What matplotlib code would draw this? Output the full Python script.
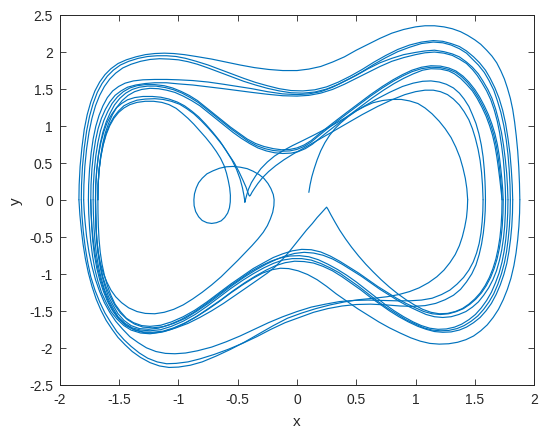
import matplotlib
matplotlib.use('Agg')
import matplotlib.pyplot as plt
import numpy as np

plt.rcParams['font.family'] = ['Liberation Sans', 'DejaVu Sans']
plt.rcParams['axes.unicode_minus'] = False

# phase trajectory as (x, y)
# upper half-orbits run left -> right, lower ones right -> left
start_top = [(0.1, 0.1), (0.11, 0.2), (0.125, 0.31), (0.145, 0.42), (0.17, 0.54), (0.2, 0.66), (0.235, 0.77),
             (0.275, 0.87), (0.32, 0.96), (0.37, 1.04), (0.43, 1.12), (0.5, 1.2), (0.57, 1.26), (0.64, 1.31),
             (0.72, 1.34), (0.8, 1.355), (0.88, 1.355), (0.95, 1.335), (1.02, 1.3), (1.08, 1.24), (1.14, 1.16),
             (1.2, 1.06), (1.25, 0.96), (1.3, 0.84), (1.34, 0.71), (1.375, 0.57), (1.4, 0.43), (1.42, 0.29),
             (1.433, 0.15), (1.44, 0.0)]
start_bottom = [(1.44, 0.0), (1.437, -0.12), (1.43, -0.24), (1.415, -0.37), (1.395, -0.5), (1.37, -0.62),
                (1.335, -0.74), (1.29, -0.85), (1.24, -0.95), (1.18, -1.04), (1.11, -1.12), (1.03, -1.19),
                (0.95, -1.24), (0.86, -1.28), (0.76, -1.31), (0.65, -1.33), (0.52, -1.35), (0.4, -1.38),
                (0.28, -1.42), (0.16, -1.47), (0.04, -1.53), (-0.08, -1.6), (-0.2, -1.7), (-0.32, -1.81),
                (-0.44, -1.92), (-0.56, -2.02), (-0.68, -2.11), (-0.8, -2.19), (-0.9, -2.235), (-1.0, -2.26),
                (-1.08, -2.265), (-1.16, -2.245), (-1.24, -2.2), (-1.32, -2.13), (-1.39, -2.05), (-1.45, -1.96),
                (-1.51, -1.86), (-1.56, -1.75), (-1.61, -1.63), (-1.655, -1.49), (-1.695, -1.34), (-1.73, -1.17),
                (-1.76, -0.99), (-1.785, -0.8), (-1.805, -0.6), (-1.82, -0.4), (-1.832, -0.2), (-1.84, 0.0)]

top_outer = [(-1.84, 0.0), (-1.838, 0.2), (-1.83, 0.45), (-1.815, 0.7), (-1.795, 0.95), (-1.77, 1.15),
             (-1.74, 1.32), (-1.705, 1.47), (-1.665, 1.59), (-1.62, 1.69), (-1.57, 1.77), (-1.51, 1.84),
             (-1.44, 1.89), (-1.36, 1.93), (-1.28, 1.96), (-1.2, 1.975), (-1.12, 1.98), (-1.04, 1.975),
             (-0.95, 1.96), (-0.85, 1.935), (-0.72, 1.9), (-0.6, 1.86), (-0.48, 1.82), (-0.36, 1.785),
             (-0.24, 1.76), (-0.12, 1.745), (0.0, 1.745), (0.1, 1.765), (0.2, 1.8), (0.3, 1.86), (0.4, 1.93),
             (0.5, 2.02), (0.6, 2.1), (0.7, 2.18), (0.8, 2.25), (0.9, 2.3), (1.0, 2.335), (1.08, 2.35),
             (1.16, 2.35), (1.24, 2.335), (1.31, 2.31), (1.38, 2.27), (1.44, 2.22), (1.5, 2.16), (1.55, 2.1),
             (1.6, 2.02), (1.645, 1.94), (1.685, 1.85), (1.72, 1.74), (1.75, 1.63), (1.775, 1.51), (1.8, 1.37),
             (1.82, 1.22), (1.836, 1.05), (1.85, 0.86), (1.862, 0.66), (1.871, 0.44), (1.877, 0.22), (1.88, 0.0)]
top_2 = [(-1.82, 0.0), (-1.818, 0.2), (-1.81, 0.45), (-1.795, 0.7), (-1.775, 0.93), (-1.75, 1.13), (-1.72, 1.3),
         (-1.685, 1.45), (-1.645, 1.57), (-1.6, 1.67), (-1.55, 1.75), (-1.49, 1.82), (-1.42, 1.87), (-1.34, 1.91),
         (-1.26, 1.935), (-1.18, 1.945), (-1.1, 1.945), (-1.02, 1.935), (-0.94, 1.91), (-0.85, 1.87),
         (-0.75, 1.82), (-0.65, 1.76), (-0.55, 1.7), (-0.45, 1.64), (-0.35, 1.585), (-0.25, 1.54), (-0.15, 1.5),
         (-0.05, 1.475), (0.05, 1.47), (0.15, 1.485), (0.25, 1.525), (0.35, 1.59), (0.45, 1.67), (0.55, 1.76),
         (0.65, 1.86), (0.75, 1.95), (0.85, 2.03), (0.95, 2.09), (1.05, 2.13), (1.15, 2.15), (1.23, 2.14),
         (1.3, 2.11), (1.37, 2.07), (1.43, 2.01), (1.49, 1.93), (1.54, 1.85), (1.59, 1.75), (1.63, 1.64),
         (1.67, 1.51), (1.705, 1.37), (1.735, 1.21), (1.76, 1.03), (1.78, 0.83), (1.797, 0.62), (1.808, 0.41),
         (1.816, 0.2), (1.82, 0.0)]
top_3 = [(-1.80, 0.0), (-1.798, 0.2), (-1.79, 0.45), (-1.775, 0.69), (-1.755, 0.91), (-1.73, 1.1), (-1.7, 1.27),
         (-1.665, 1.41), (-1.625, 1.53), (-1.58, 1.63), (-1.53, 1.71), (-1.47, 1.78), (-1.4, 1.83), (-1.32, 1.87),
         (-1.24, 1.895), (-1.16, 1.905), (-1.08, 1.9), (-1.0, 1.89), (-0.92, 1.865), (-0.84, 1.83), (-0.75, 1.78),
         (-0.65, 1.72), (-0.55, 1.66), (-0.45, 1.6), (-0.35, 1.55), (-0.25, 1.505), (-0.15, 1.47), (-0.05, 1.445),
         (0.05, 1.44), (0.15, 1.455), (0.25, 1.495), (0.35, 1.56), (0.45, 1.64), (0.55, 1.73), (0.65, 1.83),
         (0.75, 1.92), (0.85, 2.0), (0.95, 2.06), (1.05, 2.11), (1.15, 2.13), (1.23, 2.12), (1.3, 2.09),
         (1.37, 2.04), (1.43, 1.98), (1.48, 1.9), (1.53, 1.82), (1.58, 1.72), (1.62, 1.61), (1.66, 1.48),
         (1.69, 1.34), (1.72, 1.18), (1.745, 1.0), (1.765, 0.81), (1.78, 0.61), (1.79, 0.41), (1.797, 0.2),
         (1.80, 0.0)]
top_4 = [(-1.76, 0.0), (-1.758, 0.2), (-1.75, 0.42), (-1.737, 0.63), (-1.72, 0.82), (-1.698, 0.99), (-1.67, 1.14),
         (-1.637, 1.27), (-1.6, 1.38), (-1.555, 1.47), (-1.505, 1.53), (-1.45, 1.575), (-1.38, 1.605),
         (-1.3, 1.62), (-1.2, 1.625), (-1.1, 1.625), (-1.0, 1.62), (-0.88, 1.61), (-0.75, 1.59), (-0.62, 1.56),
         (-0.5, 1.53), (-0.38, 1.5), (-0.25, 1.46), (-0.12, 1.43), (0.0, 1.42), (0.1, 1.43), (0.2, 1.46),
         (0.3, 1.52), (0.4, 1.6), (0.5, 1.68), (0.6, 1.77), (0.7, 1.85), (0.8, 1.91), (0.9, 1.96), (1.0, 1.99),
         (1.08, 2.01), (1.16, 2.02), (1.24, 2.0), (1.31, 1.97), (1.37, 1.93), (1.43, 1.86), (1.48, 1.79),
         (1.53, 1.7), (1.57, 1.6), (1.61, 1.49), (1.645, 1.37), (1.675, 1.23), (1.7, 1.08), (1.725, 0.91),
         (1.743, 0.73), (1.758, 0.54), (1.769, 0.36), (1.776, 0.18), (1.78, 0.0)]
top_5 = [(-1.74, 0.0), (-1.738, 0.2), (-1.73, 0.42), (-1.717, 0.62), (-1.7, 0.8), (-1.678, 0.96), (-1.65, 1.1),
         (-1.617, 1.22), (-1.58, 1.32), (-1.535, 1.41), (-1.485, 1.47), (-1.43, 1.52), (-1.36, 1.55),
         (-1.28, 1.57), (-1.2, 1.58), (-1.1, 1.58), (-1.0, 1.565), (-0.88, 1.55), (-0.75, 1.525), (-0.62, 1.5),
         (-0.5, 1.475), (-0.38, 1.45), (-0.25, 1.425), (-0.12, 1.405), (0.0, 1.4), (0.1, 1.41), (0.2, 1.44),
         (0.3, 1.49), (0.4, 1.56), (0.5, 1.64), (0.6, 1.72), (0.7, 1.8), (0.8, 1.87), (0.9, 1.92), (1.0, 1.96),
         (1.08, 1.985), (1.16, 1.995), (1.24, 1.98), (1.31, 1.95), (1.37, 1.9), (1.43, 1.84), (1.48, 1.76),
         (1.52, 1.68), (1.56, 1.58), (1.6, 1.47), (1.635, 1.35), (1.665, 1.21), (1.69, 1.06), (1.71, 0.9),
         (1.727, 0.72), (1.741, 0.54), (1.75, 0.36), (1.757, 0.18), (1.76, 0.0)]

v_1 = [(-1.72, 0.0), (-1.718, 0.2), (-1.71, 0.4), (-1.697, 0.6), (-1.68, 0.77), (-1.658, 0.93), (-1.63, 1.07),
       (-1.597, 1.19), (-1.56, 1.3), (-1.515, 1.39), (-1.465, 1.46), (-1.41, 1.51), (-1.35, 1.54), (-1.28, 1.555),
       (-1.2, 1.555), (-1.12, 1.54), (-1.05, 1.51), (-0.98, 1.465), (-0.91, 1.41), (-0.84, 1.34), (-0.77, 1.25),
       (-0.7, 1.16), (-0.63, 1.07), (-0.56, 0.98), (-0.49, 0.9), (-0.42, 0.82), (-0.35, 0.76), (-0.28, 0.72),
       (-0.2, 0.69), (-0.13, 0.675), (-0.06, 0.68), (0.0, 0.7), (0.06, 0.74), (0.12, 0.8), (0.18, 0.88),
       (0.25, 0.97), (0.33, 1.07), (0.42, 1.18), (0.52, 1.3), (0.62, 1.42), (0.72, 1.53), (0.81, 1.62),
       (0.89, 1.69), (0.97, 1.75), (1.05, 1.79), (1.13, 1.81), (1.21, 1.805), (1.28, 1.78), (1.34, 1.74),
       (1.4, 1.67), (1.45, 1.59), (1.5, 1.49), (1.54, 1.39), (1.58, 1.27), (1.615, 1.15), (1.645, 1.02),
       (1.67, 0.89), (1.69, 0.75), (1.706, 0.6), (1.718, 0.44), (1.728, 0.29), (1.735, 0.15), (1.74, 0.0)]
v_2 = [(-1.70, 0.0), (-1.698, 0.2), (-1.69, 0.4), (-1.677, 0.59), (-1.66, 0.76), (-1.638, 0.91), (-1.61, 1.05),
       (-1.577, 1.17), (-1.54, 1.28), (-1.495, 1.37), (-1.445, 1.44), (-1.39, 1.49), (-1.33, 1.52),
       (-1.26, 1.535), (-1.19, 1.535), (-1.11, 1.515), (-1.04, 1.485), (-0.97, 1.44), (-0.9, 1.38),
       (-0.83, 1.31), (-0.76, 1.22), (-0.69, 1.13), (-0.62, 1.04), (-0.55, 0.95), (-0.48, 0.87), (-0.41, 0.79),
       (-0.34, 0.73), (-0.27, 0.69), (-0.2, 0.665), (-0.13, 0.655), (-0.06, 0.66), (0.0, 0.68), (0.06, 0.72),
       (0.12, 0.78), (0.18, 0.86), (0.25, 0.95), (0.33, 1.05), (0.42, 1.16), (0.52, 1.28), (0.62, 1.4),
       (0.72, 1.51), (0.81, 1.6), (0.89, 1.67), (0.97, 1.73), (1.05, 1.77), (1.13, 1.79), (1.21, 1.785),
       (1.28, 1.76), (1.34, 1.72), (1.39, 1.66), (1.44, 1.58), (1.49, 1.48), (1.53, 1.38), (1.57, 1.26),
       (1.605, 1.14), (1.635, 1.01), (1.66, 0.88), (1.68, 0.74), (1.696, 0.59), (1.708, 0.44), (1.718, 0.29),
       (1.725, 0.15), (1.73, 0.0)]
v_3 = [(-1.68, 0.0), (-1.678, 0.2), (-1.67, 0.4), (-1.657, 0.58), (-1.64, 0.75), (-1.618, 0.9), (-1.59, 1.03),
       (-1.557, 1.15), (-1.52, 1.25), (-1.475, 1.34), (-1.425, 1.41), (-1.37, 1.46), (-1.31, 1.49),
       (-1.24, 1.505), (-1.17, 1.5), (-1.1, 1.48), (-1.03, 1.45), (-0.96, 1.4), (-0.89, 1.34), (-0.82, 1.27),
       (-0.75, 1.18), (-0.68, 1.09), (-0.61, 1.0), (-0.54, 0.91), (-0.47, 0.83), (-0.4, 0.76), (-0.33, 0.7),
       (-0.26, 0.66), (-0.19, 0.635), (-0.12, 0.625), (-0.05, 0.63), (0.01, 0.65), (0.07, 0.69), (0.13, 0.75),
       (0.19, 0.83), (0.26, 0.92), (0.34, 1.02), (0.43, 1.13), (0.53, 1.25), (0.63, 1.37), (0.73, 1.48),
       (0.82, 1.57), (0.9, 1.64), (0.98, 1.7), (1.06, 1.75), (1.13, 1.77), (1.21, 1.765), (1.28, 1.74),
       (1.33, 1.7), (1.38, 1.64), (1.43, 1.56), (1.48, 1.47), (1.52, 1.37), (1.56, 1.25), (1.595, 1.13),
       (1.625, 1.0), (1.65, 0.87), (1.67, 0.73), (1.686, 0.58), (1.699, 0.43), (1.71, 0.29), (1.72, 0.15),
       (1.73, 0.0)]

spike_1 = [(-1.70, 0.0), (-1.698, 0.2), (-1.69, 0.4), (-1.675, 0.6), (-1.655, 0.77), (-1.63, 0.92), (-1.6, 1.05),
           (-1.565, 1.15), (-1.525, 1.24), (-1.48, 1.3), (-1.43, 1.35), (-1.37, 1.38), (-1.3, 1.395),
           (-1.22, 1.395), (-1.15, 1.385), (-1.08, 1.36), (-1.01, 1.32), (-0.95, 1.27), (-0.89, 1.2),
           (-0.83, 1.12), (-0.77, 1.02), (-0.71, 0.91), (-0.65, 0.79), (-0.6, 0.67), (-0.55, 0.54),
           (-0.51, 0.41), (-0.48, 0.28), (-0.46, 0.16), (-0.448, 0.06), (-0.442, 0.0), (-0.44, -0.035),
           (-0.435, 0.0), (-0.425, 0.06), (-0.41, 0.14), (-0.385, 0.23), (-0.35, 0.32), (-0.305, 0.42),
           (-0.25, 0.51), (-0.19, 0.59), (-0.12, 0.66), (-0.04, 0.73), (0.05, 0.8), (0.15, 0.88), (0.27, 0.98),
           (0.4, 1.1), (0.53, 1.23), (0.66, 1.35), (0.78, 1.45), (0.89, 1.53), (0.98, 1.575), (1.06, 1.6),
           (1.13, 1.605), (1.2, 1.59), (1.26, 1.56), (1.32, 1.51), (1.37, 1.44), (1.41, 1.36), (1.45, 1.26),
           (1.48, 1.15), (1.51, 1.03), (1.535, 0.89), (1.555, 0.74), (1.57, 0.58), (1.58, 0.41), (1.586, 0.25),
           (1.589, 0.12), (1.59, 0.0)]
spike_2 = [(-1.68, 0.0), (-1.678, 0.2), (-1.67, 0.4), (-1.655, 0.59), (-1.635, 0.75), (-1.61, 0.9), (-1.58, 1.02),
           (-1.545, 1.12), (-1.505, 1.2), (-1.46, 1.27), (-1.41, 1.31), (-1.35, 1.345), (-1.28, 1.36),
           (-1.2, 1.365), (-1.13, 1.355), (-1.06, 1.33), (-0.99, 1.29), (-0.93, 1.23), (-0.87, 1.16),
           (-0.81, 1.07), (-0.75, 0.97), (-0.69, 0.86), (-0.63, 0.74), (-0.58, 0.62), (-0.53, 0.5), (-0.49, 0.38),
           (-0.455, 0.26), (-0.43, 0.17), (-0.415, 0.1), (-0.405, 0.06), (-0.4, 0.05), (-0.393, 0.06),
           (-0.38, 0.1), (-0.36, 0.15), (-0.33, 0.22), (-0.29, 0.3), (-0.24, 0.38), (-0.18, 0.46), (-0.11, 0.54),
           (-0.03, 0.62), (0.06, 0.7), (0.17, 0.8), (0.29, 0.91), (0.42, 1.03), (0.55, 1.15), (0.68, 1.26),
           (0.8, 1.35), (0.91, 1.42), (1.0, 1.46), (1.08, 1.48), (1.15, 1.48), (1.21, 1.46), (1.27, 1.42),
           (1.32, 1.36), (1.37, 1.28), (1.41, 1.19), (1.45, 1.08), (1.48, 0.96), (1.505, 0.83), (1.528, 0.68),
           (1.545, 0.53), (1.557, 0.37), (1.565, 0.2), (1.57, 0.0)]

low_2 = [(1.59, 0.0), (1.588, -0.15), (1.582, -0.3), (1.572, -0.45), (1.557, -0.6), (1.537, -0.74), (1.51, -0.88),
         (1.475, -1.0), (1.43, -1.11), (1.38, -1.21), (1.32, -1.29), (1.25, -1.35), (1.17, -1.4), (1.08, -1.43),
         (0.98, -1.44), (0.87, -1.435), (0.75, -1.42), (0.62, -1.41), (0.5, -1.415), (0.38, -1.435),
         (0.26, -1.47), (0.14, -1.52), (0.02, -1.59), (-0.1, -1.66), (-0.22, -1.75), (-0.34, -1.85),
         (-0.46, -1.94), (-0.58, -2.02), (-0.7, -2.09), (-0.82, -2.15), (-0.92, -2.19), (-1.02, -2.21),
         (-1.1, -2.215), (-1.18, -2.19), (-1.26, -2.14), (-1.33, -2.07), (-1.4, -1.98), (-1.46, -1.89),
         (-1.52, -1.78), (-1.57, -1.66), (-1.62, -1.53), (-1.665, -1.38), (-1.705, -1.22), (-1.74, -1.04),
         (-1.765, -0.85), (-1.787, -0.64), (-1.803, -0.43), (-1.814, -0.22), (-1.82, 0.0)]
low_3 = [(1.57, 0.0), (1.568, -0.15), (1.562, -0.3), (1.552, -0.45), (1.537, -0.59), (1.515, -0.72), (1.487, -0.84),
         (1.45, -0.95), (1.405, -1.05), (1.35, -1.14), (1.29, -1.22), (1.22, -1.28), (1.14, -1.33), (1.05, -1.355),
         (0.95, -1.365), (0.84, -1.365), (0.72, -1.36), (0.6, -1.355), (0.48, -1.36), (0.36, -1.375),
         (0.24, -1.41), (0.12, -1.45), (0.0, -1.51), (-0.12, -1.58), (-0.24, -1.66), (-0.36, -1.75),
         (-0.48, -1.84), (-0.6, -1.92), (-0.72, -1.99), (-0.84, -2.04), (-0.94, -2.07), (-1.03, -2.08),
         (-1.11, -2.075), (-1.19, -2.05), (-1.27, -2.0), (-1.34, -1.93), (-1.41, -1.85), (-1.47, -1.75),
         (-1.53, -1.64), (-1.58, -1.52), (-1.625, -1.39), (-1.665, -1.24), (-1.7, -1.08), (-1.73, -0.9),
         (-1.755, -0.71), (-1.775, -0.5), (-1.788, -0.3), (-1.796, -0.14), (-1.80, 0.0)]

hump_1 = [(1.88, 0.0), (1.878, -0.18), (1.872, -0.36), (1.862, -0.54), (1.848, -0.72), (1.83, -0.89),
          (1.805, -1.06), (1.775, -1.21), (1.74, -1.35), (1.7, -1.48), (1.655, -1.59), (1.605, -1.69),
          (1.55, -1.77), (1.49, -1.84), (1.425, -1.89), (1.355, -1.925), (1.28, -1.945), (1.2, -1.95),
          (1.12, -1.94), (1.04, -1.91), (0.96, -1.865), (0.87, -1.8), (0.78, -1.73), (0.69, -1.65), (0.6, -1.56),
          (0.51, -1.47), (0.42, -1.37), (0.33, -1.27), (0.25, -1.17), (0.17, -1.08), (0.09, -1.01), (0.01, -0.96),
          (-0.07, -0.93), (-0.14, -0.925), (-0.21, -0.945), (-0.29, -0.99), (-0.37, -1.06), (-0.46, -1.15),
          (-0.56, -1.26), (-0.66, -1.38), (-0.76, -1.49), (-0.86, -1.59), (-0.96, -1.68), (-1.06, -1.75),
          (-1.15, -1.79), (-1.24, -1.81), (-1.32, -1.8), (-1.4, -1.76), (-1.46, -1.7), (-1.52, -1.61),
          (-1.57, -1.51), (-1.61, -1.39), (-1.65, -1.25), (-1.68, -1.1), (-1.705, -0.94), (-1.725, -0.76),
          (-1.74, -0.57), (-1.75, -0.38), (-1.757, -0.19), (-1.76, 0.0)]
hump_2 = [(1.82, 0.0), (1.818, -0.18), (1.812, -0.36), (1.802, -0.53), (1.788, -0.7), (1.77, -0.86),
          (1.745, -1.01), (1.715, -1.15), (1.68, -1.28), (1.64, -1.4), (1.595, -1.5), (1.545, -1.59),
          (1.49, -1.66), (1.43, -1.72), (1.37, -1.76), (1.3, -1.785), (1.23, -1.79), (1.16, -1.78), (1.09, -1.75),
          (1.02, -1.71), (0.94, -1.65), (0.86, -1.58), (0.78, -1.5), (0.7, -1.41), (0.62, -1.32), (0.54, -1.22),
          (0.46, -1.13), (0.38, -1.04), (0.3, -0.96), (0.22, -0.9), (0.14, -0.855), (0.06, -0.835), (-0.02, -0.83),
          (-0.1, -0.85), (-0.18, -0.89), (-0.26, -0.95), (-0.35, -1.03), (-0.44, -1.12), (-0.54, -1.23),
          (-0.64, -1.35), (-0.74, -1.46), (-0.84, -1.57), (-0.94, -1.66), (-1.04, -1.73), (-1.13, -1.775),
          (-1.22, -1.79), (-1.3, -1.785), (-1.38, -1.75), (-1.45, -1.69), (-1.51, -1.6), (-1.56, -1.49),
          (-1.6, -1.37), (-1.635, -1.23), (-1.665, -1.08), (-1.69, -0.92), (-1.71, -0.74), (-1.723, -0.56),
          (-1.732, -0.37), (-1.737, -0.18), (-1.74, 0.0)]
hump_3 = [(1.80, 0.0), (1.798, -0.18), (1.792, -0.36), (1.782, -0.53), (1.768, -0.7), (1.75, -0.85),
          (1.725, -1.0), (1.695, -1.14), (1.66, -1.27), (1.62, -1.38), (1.575, -1.48), (1.525, -1.57),
          (1.47, -1.64), (1.41, -1.7), (1.35, -1.74), (1.28, -1.765), (1.21, -1.77), (1.14, -1.76), (1.07, -1.73),
          (1.0, -1.68), (0.92, -1.62), (0.84, -1.54), (0.76, -1.46), (0.68, -1.37), (0.6, -1.27), (0.52, -1.17),
          (0.44, -1.08), (0.36, -0.99), (0.28, -0.92), (0.2, -0.86), (0.12, -0.815), (0.04, -0.795),
          (-0.04, -0.795), (-0.12, -0.815), (-0.2, -0.86), (-0.28, -0.92), (-0.37, -1.0), (-0.46, -1.09),
          (-0.56, -1.2), (-0.66, -1.32), (-0.76, -1.44), (-0.86, -1.55), (-0.96, -1.64), (-1.06, -1.71),
          (-1.15, -1.755), (-1.24, -1.77), (-1.32, -1.76), (-1.39, -1.73), (-1.45, -1.67), (-1.51, -1.58),
          (-1.55, -1.47), (-1.59, -1.35), (-1.625, -1.21), (-1.652, -1.06), (-1.675, -0.9), (-1.693, -0.73),
          (-1.705, -0.55), (-1.713, -0.37), (-1.718, -0.18), (-1.72, 0.0)]
hump_4 = [(1.78, 0.0), (1.778, -0.18), (1.772, -0.36), (1.762, -0.53), (1.748, -0.69), (1.73, -0.84),
          (1.705, -0.99), (1.675, -1.12), (1.64, -1.25), (1.6, -1.36), (1.555, -1.46), (1.505, -1.55),
          (1.45, -1.62), (1.39, -1.68), (1.33, -1.72), (1.26, -1.745), (1.19, -1.75), (1.12, -1.735),
          (1.05, -1.7), (0.98, -1.65), (0.9, -1.58), (0.82, -1.5), (0.74, -1.41), (0.66, -1.31), (0.58, -1.21),
          (0.5, -1.11), (0.42, -1.02), (0.34, -0.94), (0.26, -0.87), (0.18, -0.81), (0.1, -0.77), (0.02, -0.755),
          (-0.06, -0.76), (-0.14, -0.785), (-0.22, -0.83), (-0.3, -0.89), (-0.39, -0.97), (-0.48, -1.07),
          (-0.58, -1.18), (-0.68, -1.3), (-0.78, -1.42), (-0.88, -1.53), (-0.98, -1.62), (-1.08, -1.69),
          (-1.17, -1.735), (-1.25, -1.75), (-1.33, -1.74), (-1.4, -1.7), (-1.46, -1.63), (-1.51, -1.54),
          (-1.55, -1.43), (-1.59, -1.31), (-1.62, -1.17), (-1.645, -1.03), (-1.665, -0.87), (-1.68, -0.71),
          (-1.69, -0.54), (-1.695, -0.36), (-1.698, -0.18), (-1.70, 0.0)]
hump_5 = [(1.76, 0.0), (1.758, -0.18), (1.752, -0.36), (1.742, -0.52), (1.727, -0.68), (1.708, -0.82),
          (1.683, -0.96), (1.653, -1.08), (1.617, -1.19), (1.575, -1.29), (1.53, -1.38), (1.48, -1.45),
          (1.425, -1.51), (1.365, -1.55), (1.3, -1.58), (1.23, -1.59), (1.16, -1.58), (1.09, -1.55), (1.02, -1.5),
          (0.94, -1.44), (0.86, -1.37), (0.78, -1.29), (0.7, -1.21), (0.62, -1.12), (0.54, -1.03), (0.46, -0.95),
          (0.38, -0.87), (0.3, -0.8), (0.22, -0.75), (0.14, -0.72), (0.06, -0.71), (-0.02, -0.725), (-0.1, -0.76),
          (-0.18, -0.81), (-0.26, -0.87), (-0.35, -0.95), (-0.44, -1.04), (-0.54, -1.15), (-0.64, -1.27),
          (-0.74, -1.39), (-0.84, -1.5), (-0.94, -1.6), (-1.04, -1.67), (-1.13, -1.715), (-1.22, -1.73),
          (-1.3, -1.72), (-1.37, -1.68), (-1.43, -1.62), (-1.49, -1.53), (-1.535, -1.43), (-1.575, -1.31),
          (-1.61, -1.18), (-1.638, -1.04), (-1.66, -0.88), (-1.676, -0.72), (-1.688, -0.55), (-1.695, -0.37),
          (-1.698, -0.18), (-1.70, 0.0)]
hump_6 = [(1.74, 0.0), (1.738, -0.18), (1.732, -0.35), (1.722, -0.51), (1.707, -0.66), (1.688, -0.8),
          (1.663, -0.93), (1.633, -1.05), (1.597, -1.16), (1.555, -1.26), (1.51, -1.34), (1.46, -1.41),
          (1.405, -1.47), (1.345, -1.51), (1.28, -1.54), (1.21, -1.55), (1.14, -1.54), (1.07, -1.51),
          (1.0, -1.46), (0.92, -1.4), (0.84, -1.33), (0.76, -1.25), (0.68, -1.17), (0.6, -1.08), (0.52, -0.99),
          (0.44, -0.91), (0.36, -0.83), (0.28, -0.76), (0.2, -0.705), (0.12, -0.675), (0.04, -0.67),
          (-0.04, -0.69), (-0.12, -0.73), (-0.2, -0.78), (-0.28, -0.85), (-0.37, -0.93), (-0.46, -1.03),
          (-0.56, -1.14), (-0.66, -1.26), (-0.76, -1.38), (-0.86, -1.49), (-0.96, -1.58), (-1.06, -1.65),
          (-1.15, -1.695), (-1.24, -1.71), (-1.31, -1.7), (-1.38, -1.66), (-1.44, -1.6), (-1.49, -1.51),
          (-1.535, -1.41), (-1.57, -1.29), (-1.6, -1.16), (-1.625, -1.02), (-1.645, -0.87), (-1.66, -0.71),
          (-1.67, -0.54), (-1.676, -0.36), (-1.679, -0.18), (-1.68, 0.0)]
cusp = [(1.73, 0.0), (1.728, -0.18), (1.722, -0.35), (1.712, -0.51), (1.697, -0.66), (1.678, -0.8), (1.653, -0.93),
        (1.623, -1.05), (1.587, -1.16), (1.545, -1.26), (1.5, -1.34), (1.45, -1.41), (1.395, -1.47),
        (1.335, -1.51), (1.27, -1.535), (1.2, -1.54), (1.13, -1.52), (1.06, -1.48), (0.99, -1.42), (0.92, -1.35),
        (0.85, -1.27), (0.78, -1.18), (0.71, -1.08), (0.64, -0.97), (0.58, -0.87), (0.52, -0.76), (0.46, -0.64),
        (0.41, -0.53), (0.36, -0.41), (0.32, -0.3), (0.285, -0.2), (0.262, -0.13), (0.25, -0.1), (0.238, -0.12),
        (0.21, -0.17), (0.17, -0.24), (0.13, -0.32), (0.08, -0.41), (0.03, -0.51), (-0.02, -0.61), (-0.07, -0.71),
        (-0.12, -0.8), (-0.18, -0.9), (-0.25, -0.99), (-0.33, -1.08), (-0.42, -1.18), (-0.52, -1.29),
        (-0.62, -1.4), (-0.72, -1.5), (-0.82, -1.59), (-0.92, -1.67), (-1.02, -1.73), (-1.12, -1.78),
        (-1.21, -1.8), (-1.29, -1.795), (-1.37, -1.76), (-1.44, -1.7), (-1.5, -1.61), (-1.55, -1.5),
        (-1.59, -1.38), (-1.625, -1.24), (-1.655, -1.09), (-1.68, -0.93), (-1.702, -0.75), (-1.718, -0.56),
        (-1.73, -0.37), (-1.737, -0.18), (-1.74, 0.0)]

small_loop = [(-1.68, 0.0), (-1.678, 0.2), (-1.67, 0.4), (-1.655, 0.58), (-1.635, 0.74), (-1.61, 0.88),
              (-1.58, 1.0), (-1.545, 1.1), (-1.505, 1.18), (-1.46, 1.24), (-1.41, 1.285), (-1.35, 1.315),
              (-1.28, 1.33), (-1.21, 1.33), (-1.14, 1.315), (-1.08, 1.285), (-1.02, 1.235), (-0.97, 1.17),
              (-0.92, 1.1), (-0.87, 1.02), (-0.82, 0.93), (-0.77, 0.84), (-0.72, 0.74), (-0.68, 0.65),
              (-0.645, 0.56), (-0.615, 0.46), (-0.595, 0.36), (-0.58, 0.26), (-0.568, 0.16), (-0.562, 0.06),
              (-0.563, -0.03), (-0.57, -0.11), (-0.585, -0.18), (-0.61, -0.24), (-0.64, -0.285), (-0.68, -0.31),
              (-0.72, -0.32), (-0.76, -0.31), (-0.8, -0.28), (-0.83, -0.23), (-0.855, -0.16), (-0.868, -0.08),
              (-0.87, 0.0), (-0.865, 0.08), (-0.85, 0.16), (-0.83, 0.23), (-0.8, 0.29), (-0.76, 0.35),
              (-0.71, 0.39), (-0.655, 0.425), (-0.6, 0.445), (-0.54, 0.45), (-0.48, 0.44), (-0.42, 0.42),
              (-0.37, 0.385), (-0.32, 0.34), (-0.28, 0.29), (-0.245, 0.22), (-0.22, 0.15), (-0.2, 0.07),
              (-0.193, 0.0), (-0.195, -0.08), (-0.205, -0.17), (-0.225, -0.26), (-0.25, -0.35), (-0.285, -0.44),
              (-0.33, -0.53), (-0.38, -0.62), (-0.44, -0.72), (-0.5, -0.82), (-0.57, -0.93), (-0.64, -1.04),
              (-0.72, -1.15), (-0.8, -1.25), (-0.88, -1.34), (-0.96, -1.42), (-1.04, -1.48), (-1.12, -1.52),
              (-1.2, -1.54), (-1.28, -1.535), (-1.35, -1.51), (-1.42, -1.46), (-1.48, -1.39), (-1.53, -1.31),
              (-1.57, -1.22), (-1.605, -1.11), (-1.635, -0.99), (-1.66, -0.85), (-1.678, -0.7), (-1.69, -0.53),
              (-1.697, -0.35), (-1.7, -0.17), (-1.70, 0.0)]

pieces = [start_top, start_bottom, top_outer, hump_1, top_4, hump_4, v_1, hump_6, spike_1, low_2,
          top_2, hump_2, top_5, hump_5, v_2, cusp, spike_2, low_3, top_3, hump_3, v_3, small_loop]

x_ticks = [-2, -1.5, -1, -0.5, 0, 0.5, 1, 1.5, 2]
x_labels = ['-2', '-1.5', '-1', '-0.5', '0', '0.5', '1', '1.5', '2']
y_ticks = [-2.5, -2, -1.5, -1, -0.5, 0, 0.5, 1, 1.5, 2, 2.5]
y_labels = ['-2.5', '-2', '-1.5', '-1', '-0.5', '0', '0.5', '1', '1.5', '2', '2.5']

fig = plt.figure(figsize=(5.5, 4.35), dpi=100)
ax = fig.add_axes([0.109, 0.113, 0.862, 0.851])

for p in pieces:
    a = np.array(p)
    ax.plot(a[:, 0], a[:, 1], color='#0072BD', lw=0.85,
            solid_joinstyle='round', solid_capstyle='round')

ax.set_xlim(-2, 2)
ax.set_ylim(-2.5, 2.5)
ax.set_xticks(x_ticks)
ax.set_xticklabels(x_labels)
ax.set_yticks(y_ticks)
ax.set_yticklabels(y_labels)
ax.tick_params(direction='in', top=True, right=True, length=4, width=0.6,
               colors='#262626', labelsize=10, pad=5)
for s in ax.spines.values():
    s.set_color('#262626')
    s.set_linewidth(0.7)
ax.set_xlabel('x', fontsize=11, color='#262626', labelpad=6)
ax.set_ylabel('y', fontsize=11, color='#262626', labelpad=4)

fig.savefig('out.png', dpi=100)
